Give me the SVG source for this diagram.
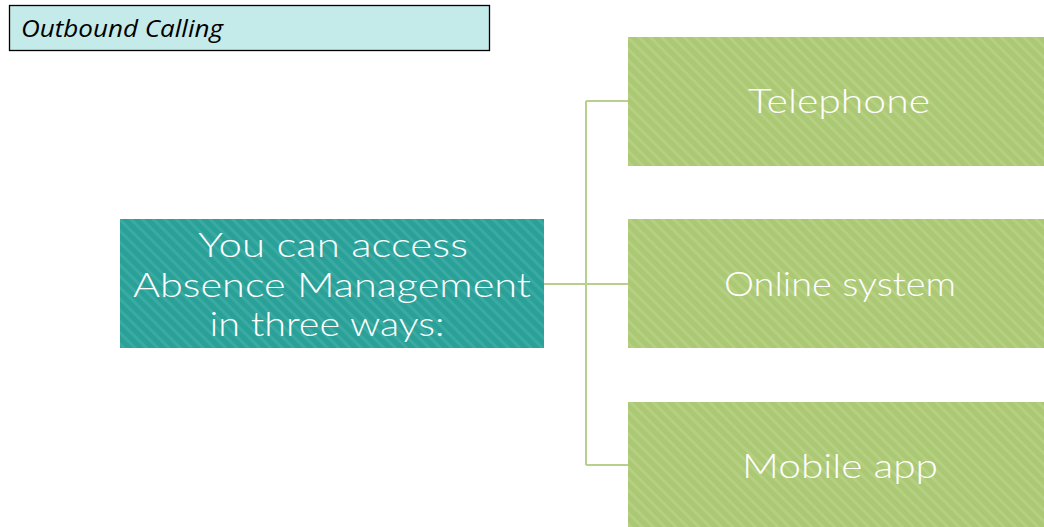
<svg xmlns="http://www.w3.org/2000/svg" width="1044" height="527" viewBox="0 0 1044 527">
<defs>
<pattern id="stripeTeal" width="8" height="8" patternUnits="userSpaceOnUse" patternTransform="rotate(-45)">
<rect width="8" height="8" fill="#2aa198"/>
<rect width="3" height="8" fill="#3aaaa2"/>
</pattern>
<pattern id="stripeGreen" width="8" height="8" patternUnits="userSpaceOnUse" patternTransform="rotate(-45)">
<rect width="8" height="8" fill="#abc874"/>
<rect width="3" height="8" fill="#b6d082"/>
</pattern>
<style>
.title{font-family:"Open Sans","Liberation Sans",sans-serif;font-style:italic;font-size:24px;fill:#000}
.lbl{font-family:Lato,"Open Sans","Liberation Sans",sans-serif;font-weight:300;font-size:33px;fill:#ffffff;text-anchor:middle}
.conn{fill:none;stroke:#b7d08c;stroke-width:2}
</style>
</defs>
<g id="title">
<rect x="9.5" y="5.5" width="480" height="45" fill="#c5eaea" stroke="#000" stroke-width="1.3"/>
<text class="title" x="21" y="37" textLength="202" lengthAdjust="spacingAndGlyphs">Outbound Calling</text>
</g>
<g id="connectors">
<path class="conn" d="M544 284 H628 M586 101 V465 M586 101 H628 M586 465 H628"/>
</g>
<g id="center">
<rect x="120" y="219" width="424" height="129" fill="url(#stripeTeal)"/>
<text class="lbl" x="333" y="257" textLength="270" lengthAdjust="spacingAndGlyphs">You can access</text>
<text class="lbl" x="332" y="297" textLength="398" lengthAdjust="spacingAndGlyphs">Absence Management</text>
<text class="lbl" x="327" y="336" textLength="235" lengthAdjust="spacingAndGlyphs">in three ways:</text>
</g>
<g id="telephone">
<rect x="628" y="37" width="416" height="129" fill="url(#stripeGreen)"/>
<text class="lbl" x="839" y="113" textLength="182" lengthAdjust="spacingAndGlyphs">Telephone</text>
</g>
<g id="online">
<rect x="628" y="219" width="416" height="129" fill="url(#stripeGreen)"/>
<text class="lbl" x="840" y="296" textLength="232" lengthAdjust="spacingAndGlyphs">Online system</text>
</g>
<g id="mobile">
<rect x="628" y="402" width="416" height="125" fill="url(#stripeGreen)"/>
<text class="lbl" x="840" y="478" textLength="196" lengthAdjust="spacingAndGlyphs">Mobile app</text>
</g>
</svg>
